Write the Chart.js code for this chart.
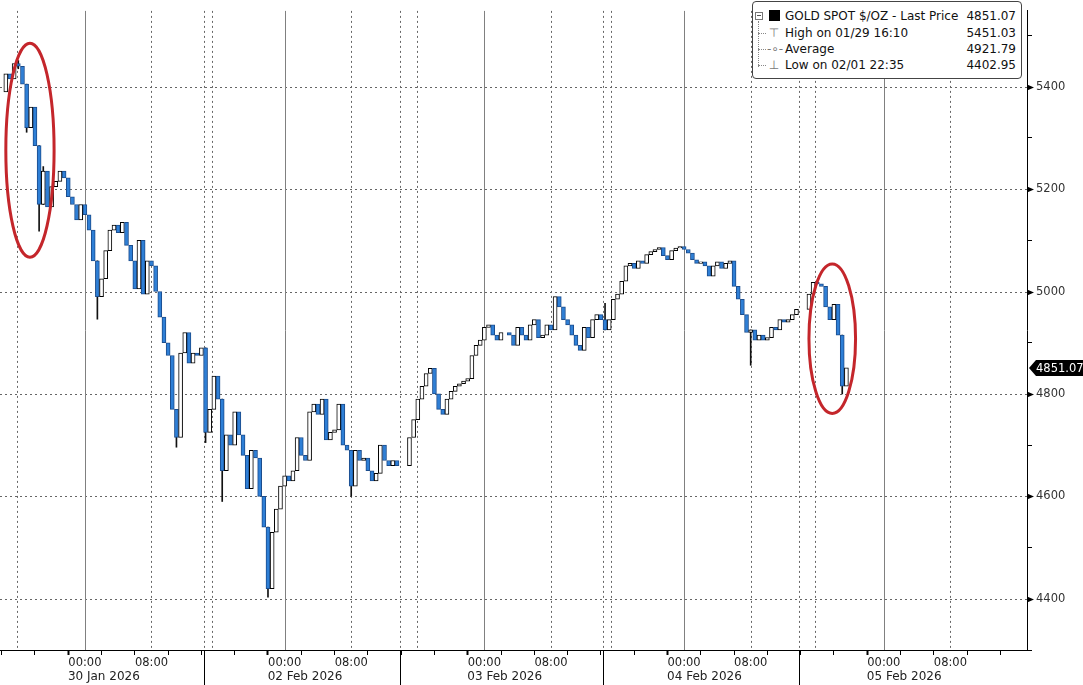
<!DOCTYPE html>
<html>
<head>
<meta charset="utf-8">
<title>Gold spot</title>
<script src="https://cdn.jsdelivr.net/npm/chart.js@4.4.1/dist/chart.umd.min.js"></script>
<style>
  body { margin: 0; background: #fff; }
  #wrap { position: relative; width: 1083px; height: 685px; overflow: hidden; }
  #legend {
    position: absolute; left: 752px; top: 1px; width: 268px; height: 76px;
    border: 1px solid #444; border-radius: 4px; background: #fff;
    font-family: 'DejaVu Sans', sans-serif; font-size: 12px; color: #111;
  }
  #legend .row { position: absolute; left: 0; right: 0; height: 16px; line-height: 16px; }
  #legend .lbl { position: absolute; left: 32px; white-space: nowrap; }
  #legend .val { position: absolute; right: 5px; }
  #legend .ico { position: absolute; left: 14px; width: 14px; text-align: center; color: #777; font-size: 12px; }
  #legend .swatch { position: absolute; left: 16px; top: 2px; width: 11px; height: 11px; background: #000; }
  #legend .treebox { position: absolute; left: 2px; top: 10px; width: 6px; height: 6px; border: 1px solid #777; background: #fff; }
  #legend .treebox:after { content: ''; position: absolute; left: 1px; top: 2px; width: 4px; height: 1px; background: #555; }
  #legend .trunk { position: absolute; left: 5px; top: 19px; height: 46px; border-left: 1px dotted #888; }
  #legend .twig { position: absolute; left: 5px; width: 8px; border-top: 1px dotted #888; }
</style>
</head>
<body>
<div id="wrap">
  <canvas id="goldChart" width="1083" height="685"></canvas>
  <div id="legend"></div>
</div>
<script>
// 30-minute bars, x in trading hours from 30 Jan 00:00 (weekend removed)
const sessionStarts = [-9.5, 14.5, 39, 62.5, 87];
const barStep = 0.5;
const openingPrice = 5390;

const jan30 = [5425, 5415, 5445, 5440, 5405, 5320, 5360, 5285, 5170, 5235, 5165, 5205,
  5215, 5235, 5222, 5185, 5170, 5140, 5170, 5150, 5120, 5060, 4990, 5025,
  5080, 5120, 5130, 5115, 5135, 5090, 5060, 5005, 5100, 4995, 5060, 5050,
  5000, 4950, 4900, 4875, 4770, 4715, 4880, 4920, 4860, 4880, 4875, 4890];
const feb02 = [4725, 4770, 4835, 4790, 4650, 4720, 4700, 4765, 4720, 4680, 4615, 4690,
  4675, 4600, 4540, 4420, 4530, 4575, 4620, 4640, 4630, 4650, 4715, 4680,
  4670, 4765, 4780, 4760, 4790, 4710, 4725, 4730, 4780, 4700, 4690, 4620,
  4690, 4670, 4675, 4650, 4630, 4645, 4700, 4670, 4660, 4670, 4660];
const feb03 = [4715, 4750, 4790, 4815, 4840, 4850, 4800, 4770, 4760, 4790, 4805, 4815,
  4820, 4825, 4830, 4875, 4895, 4905, 4930, 4935, 4915, 4905, 4920, 4920,
  4915, 4895, 4930, 4915, 4905, 4935, 4945, 4910, 4915, 4935, 4925, 4990,
  4970, 4945, 4935, 4915, 4895, 4885, 4930, 4910, 4945, 4955, 4945];
const feb04 = [4925, 4945, 4985, 4995, 5020, 5050, 5055, 5045, 5060, 5055, 5072, 5078,
  5082, 5086, 5070, 5062, 5080, 5085, 5088, 5082, 5075, 5062, 5055, 5058,
  5050, 5030, 5050, 5058, 5045, 5055, 5060, 5010, 4985, 4955, 4920, 4925,
  4905, 4915, 4905, 4910, 4930, 4925, 4945, 4940, 4945, 4955, 4965];
const feb05 = [4995, 5018, 5015, 5010, 4970, 4945, 4975, 4915, 4815, 4851.07];
const sessions = [jan30, feb02, feb03, feb04, feb05];

// visible wicks
const wickTimes = [-8, -7, -5.5, -5, 1.5, 11, 14.5, 16.5, 22, 32, 62.5, 80, 91];
const wickLows  = [5435, 5311, 5118, 5170, 4946, 4696, 4705, 4590, 4402.95, 4600, 4925, 4856, 4800];
const wickHighs = [5451.03, 5405, 5285, 5244, 5060, 4770, 4890, 4790, 4540, 4690, 4977, 4925, 4915];

// legend figures
const seriesName = 'GOLD SPOT $/OZ - Last Price';
const lastPrice = 4851.07;
const highValue = 5451.03, highLabel = 'High on 01/29 16:10';
const avgValue = 4921.79;
const lowValue = 4402.95, lowLabel = 'Low on 02/01 22:35';

// axes
const dayLabels = ['30 Jan 2026', '02 Feb 2026', '03 Feb 2026', '04 Feb 2026', '05 Feb 2026'];
const dayMidnights = [0, 24, 48, 72, 96];
const sessionBreaks = [14.3, 37.9, 62.3, 85.8];
const sessionOpens = [-8.2, 15.3, 39.9, 63.2, 87.7];
const yLabelTicks = [4400, 4600, 4800, 5000, 5200, 5400];
const yTickValues = [4300, 4400, 4500, 4600, 4700, 4800, 4900, 5000, 5100, 5200, 5300, 5400, 5500];
const xTickHours = [];
for (let h = -8; h <= 112; h += 4) xTickHours.push(h);

// red circles drawn on the chart (centre hour, centre price, half-width in hours, half-height in price)
const highlights = [
  { h: -6.6, p: 5276, rh: 2.9, rp: 209 },
  { h: 89.8, p: 4908, rh: 2.8, rp: 146 }
];

const bodies = [];
let prev = openingPrice;
sessions.forEach(function(closes, s) {
  closes.forEach(function(c, i) {
    bodies.push({ x: sessionStarts[s] + i * barStep, y: [prev, c], up: c >= prev });
    prev = c;
  });
});
const wicks = wickTimes.map(function(t, i) {
  return { x: t, y: [wickLows[i], wickHighs[i]] };
});

function hourOfDay(v) { return ((v % 24) + 24) % 24; }

const overlay = {
  id: 'overlay',
  beforeDatasetsDraw: function(chart) {
    const c = chart.ctx, a = chart.chartArea;
    const xs = chart.scales.x, ys = chart.scales.y;
    c.save();
    c.lineWidth = 1;
    c.strokeStyle = '#666';
    c.setLineDash([2, 3]);
    yLabelTicks.forEach(function(v) {
      const y = Math.round(ys.getPixelForValue(v)) + 0.5;
      c.beginPath(); c.moveTo(a.left, y); c.lineTo(a.right, y); c.stroke();
    });
    const dotted = sessionBreaks.concat(sessionOpens, dayMidnights.map(function(d) { return d + 8; }));
    dotted.forEach(function(h) {
      const x = Math.round(xs.getPixelForValue(h)) + 0.5;
      c.beginPath(); c.moveTo(x, a.top); c.lineTo(x, a.bottom); c.stroke();
    });
    c.setLineDash([]);
    c.strokeStyle = '#808080';
    dayMidnights.forEach(function(h) {
      const x = Math.round(xs.getPixelForValue(h)) + 0.5;
      c.beginPath(); c.moveTo(x, a.top); c.lineTo(x, a.bottom); c.stroke();
    });
    c.restore();
  },
  afterDatasetsDraw: function(chart) {
    const c = chart.ctx;
    const xs = chart.scales.x, ys = chart.scales.y;
    c.save();
    c.strokeStyle = '#c4262b';
    c.lineWidth = 3;
    highlights.forEach(function(e) {
      const cx = xs.getPixelForValue(e.h), cy = ys.getPixelForValue(e.p);
      const rx = xs.getPixelForValue(e.h + e.rh) - cx;
      const ry = cy - ys.getPixelForValue(e.p + e.rp);
      c.beginPath(); c.ellipse(cx, cy, rx, ry, 0, 0, Math.PI * 2); c.stroke();
    });
    c.restore();
  },
  afterDraw: function(chart) {
    const c = chart.ctx, a = chart.chartArea;
    const xs = chart.scales.x, ys = chart.scales.y;
    c.save();
    // tick pointers on the price axis
    c.fillStyle = '#000';
    yLabelTicks.forEach(function(v) {
      const y = Math.round(ys.getPixelForValue(v)) + 0.5;
      c.beginPath(); c.moveTo(a.right, y - 3); c.lineTo(a.right + 7, y); c.lineTo(a.right, y + 3); c.closePath(); c.fill();
    });
    // last price tag
    const ty = Math.round(ys.getPixelForValue(lastPrice));
    c.beginPath();
    c.moveTo(a.right + 2, ty);
    c.lineTo(a.right + 9, ty - 8);
    c.lineTo(chart.width, ty - 8);
    c.lineTo(chart.width, ty + 8);
    c.lineTo(a.right + 9, ty + 8);
    c.closePath();
    c.fill();
    c.fillStyle = '#fff';
    c.font = '11.5px "DejaVu Sans"';
    c.textBaseline = 'middle';
    c.fillText(lastPrice.toFixed(2), a.right + 9, ty + 1);
    // trading-day separators and dates under the time axis
    c.strokeStyle = '#000';
    c.lineWidth = 1;
    sessionBreaks.forEach(function(h) {
      const x = Math.round(xs.getPixelForValue(h)) + 0.5;
      c.beginPath(); c.moveTo(x, a.bottom); c.lineTo(x, chart.height); c.stroke();
    });
    c.fillStyle = '#222';
    c.font = '12px "DejaVu Sans"';
    c.textBaseline = 'alphabetic';
    dayLabels.forEach(function(t, i) {
      c.fillText(t, xs.getPixelForValue(dayMidnights[i]) - 17, 680);
    });
    c.restore();
  }
};

new Chart(document.getElementById('goldChart').getContext('2d'), {
  type: 'bar',
  data: {
    datasets: [{
      label: 'wicks',
      data: wicks,
      backgroundColor: '#111',
      borderWidth: 0,
      barThickness: 1,
      grouped: false,
      order: 2
    }, {
      label: seriesName,
      data: bodies,
      backgroundColor: function(ctx) { return ctx.raw && ctx.raw.up ? '#ffffff' : '#2e7fd6'; },
      borderColor: function(ctx) { return ctx.raw && ctx.raw.up ? '#000000' : '#1b4c8c'; },
      borderWidth: 1,
      borderSkipped: false,
      barThickness: 4,
      grouped: false,
      order: 1
    }]
  },
  options: {
    responsive: false,
    animation: false,
    devicePixelRatio: 1,
    layout: { padding: 0 },
    plugins: {
      legend: { display: false },
      tooltip: { enabled: false }
    },
    scales: {
      x: {
        type: 'linear',
        min: -10.2,
        max: 113.2,
        offset: false,
        afterBuildTicks: function(s) { s.ticks = xTickHours.map(function(v) { return { value: v }; }); },
        afterFit: function(s) { s.height = 35; },
        grid: {
          drawOnChartArea: false,
          drawTicks: true,
          tickLength: 5,
          tickColor: '#000',
          tickWidth: function(ctx) { return ctx.tick && hourOfDay(ctx.tick.value) === 0 ? 2 : 1; }
        },
        border: { color: '#000', width: 1 },
        ticks: {
          autoSkip: false,
          maxRotation: 0,
          padding: 1,
          color: '#222',
          font: { family: 'DejaVu Sans', size: 11.5 },
          callback: function(v) {
            const m = hourOfDay(v);
            return m === 0 ? '00:00' : (m === 8 ? '08:00' : '');
          }
        }
      },
      y: {
        position: 'right',
        min: 4300,
        max: 5548,
        afterBuildTicks: function(s) { s.ticks = yTickValues.map(function(v) { return { value: v }; }); },
        afterFit: function(s) { s.width = 56; },
        grid: {
          drawOnChartArea: false,
          tickLength: 5,
          tickColor: function(ctx) { return ctx.tick && yLabelTicks.includes(ctx.tick.value) ? 'rgba(0,0,0,0)' : '#000'; }
        },
        border: { color: '#000', width: 1 },
        ticks: {
          padding: 4,
          color: '#333',
          font: { family: 'DejaVu Sans', size: 11.5 },
          callback: function(v) { return yLabelTicks.includes(v) ? String(v) : ''; }
        }
      }
    }
  },
  plugins: [overlay]
});

// legend box
const legendRows = [
  { label: seriesName, value: lastPrice, icon: 'swatch' },
  { label: highLabel, value: highValue, icon: '\u22A4' },
  { label: 'Average', value: avgValue, icon: '-\u2218-' },
  { label: lowLabel, value: lowValue, icon: '\u22A5' }
];
const rowTops = [6, 23, 39, 55];
let html = '<span class="treebox"></span><span class="trunk"></span>';
legendRows.forEach(function(r, i) {
  if (i > 0) html += '<span class="twig" style="top:' + (rowTops[i] + 8) + 'px"></span>';
  html += '<div class="row" style="top:' + rowTops[i] + 'px">' +
    (r.icon === 'swatch' ? '<span class="swatch"></span>' : '<span class="ico">' + r.icon + '</span>') +
    '<span class="lbl">' + r.label + '</span><span class="val">' + r.value.toFixed(2) + '</span></div>';
});
document.getElementById('legend').innerHTML = html;
</script>
</body>
</html>
